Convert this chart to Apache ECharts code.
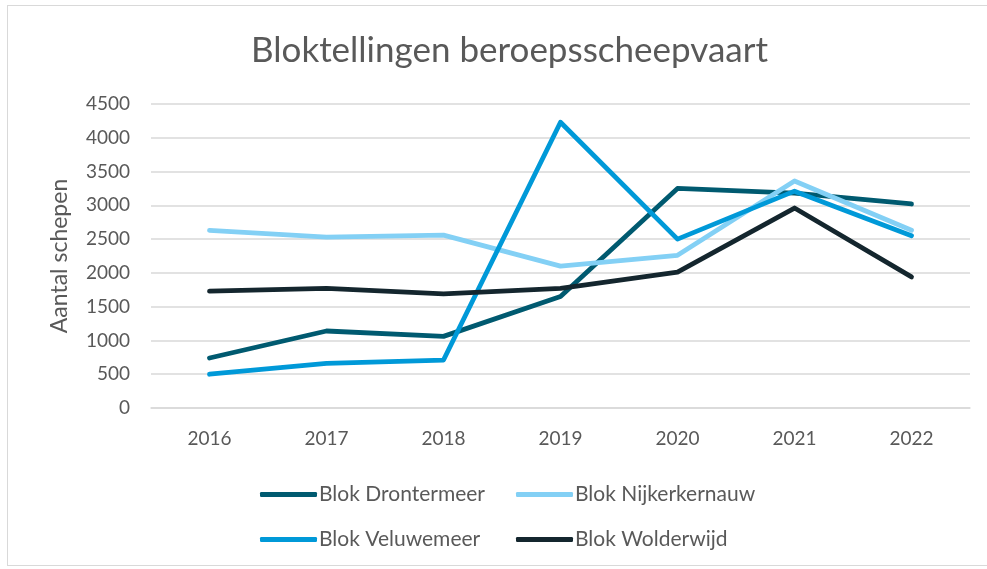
<!DOCTYPE html>
<html>
<head>
<meta charset="utf-8">
<script src="https://cdn.jsdelivr.net/npm/echarts@6/dist/echarts.min.js"></script>
<style>
  html, body { margin: 0; padding: 0; background: #fff; }
  #frame { position: absolute; left: 7px; top: 5px; width: 982px; height: 561px; border: 1px solid #d9d9d9; box-sizing: border-box; }
  #main { position: absolute; left: 0; top: 0; width: 987px; height: 569px; }
</style>
</head>
<body>
<div id="frame"></div>
<div id="main"></div>
<script>
// jaren en tellingen per blok
var years = ['2016', '2017', '2018', '2019', '2020', '2021', '2022']
var drontermeer = [740, 1140, 1060, 1650, 3250, 3180, 3020]
var nijkerkernauw = [2630, 2530, 2560, 2100, 2260, 3360, 2630]
var veluwemeer = [500, 660, 710, 4230, 2500, 3210, 2550]
var wolderwijd = [1730, 1770, 1690, 1770, 2010, 2960, 1940]

var names = ['Blok Drontermeer', 'Blok Nijkerkernauw', 'Blok Veluwemeer', 'Blok Wolderwijd']
var colors = ['#005A70', '#83D0F5', '#0099D8', '#14262E']
var values = [drontermeer, nijkerkernauw, veluwemeer, wolderwijd]

var font = 'Lato, "Noto Sans", sans-serif'
var textColor = '#595959'

// legenda: elk item apart, zodat de kolommen netjes uitlijnen
var legendPos = [[255, 479], [511, 479], [255, 524], [511, 524]]
var legends = names.map(function (n, i) {
  return {
    data: [n],
    left: legendPos[i][0],
    top: legendPos[i][1],
    itemWidth: 57,
    itemHeight: 5,
    itemGap: 0,
    icon: 'roundRect',
    textStyle: { fontFamily: font, fontSize: 21, color: textColor, padding: [0, 0, 0, -3] }
  }
})

var series = names.map(function (n, i) {
  return {
    name: n,
    type: 'line',
    data: values[i],
    symbol: 'none',
    lineStyle: { width: 4.8, color: colors[i], cap: 'round', join: 'round' },
    itemStyle: { color: colors[i] }
  }
})

var myChart = echarts.init(document.getElementById('main'))
var option = {
  animation: false,
  title: {
    text: 'Bloktellingen beroepsscheepvaart',
    left: 246,
    top: 28,
    textStyle: { fontFamily: font, fontSize: 35, fontWeight: 'normal', color: textColor }
  },
  legend: legends,
  grid: { left: 151, right: 17, top: 104, bottom: 161 },
  xAxis: {
    type: 'category',
    data: years,
    boundaryGap: true,
    axisLine: { lineStyle: { color: '#d9d9d9', width: 1.5 } },
    axisTick: { show: false },
    axisLabel: { fontFamily: font, fontSize: 19, color: textColor, margin: 21 }
  },
  yAxis: {
    type: 'value',
    min: 0,
    max: 4500,
    interval: 500,
    name: 'Aantal schepen',
    nameLocation: 'middle',
    nameGap: 80,
    nameTextStyle: { fontFamily: font, fontSize: 23, color: textColor },
    axisLine: { show: false },
    axisTick: { show: false },
    axisLabel: {
      fontFamily: font, fontSize: 19, color: textColor, margin: 21,
      formatter: function (v) { return String(v) }
    },
    splitLine: { lineStyle: { color: '#d9d9d9', width: 1.5 } }
  },
  series: series
}
option && myChart.setOption(option)
</script>
</body>
</html>
